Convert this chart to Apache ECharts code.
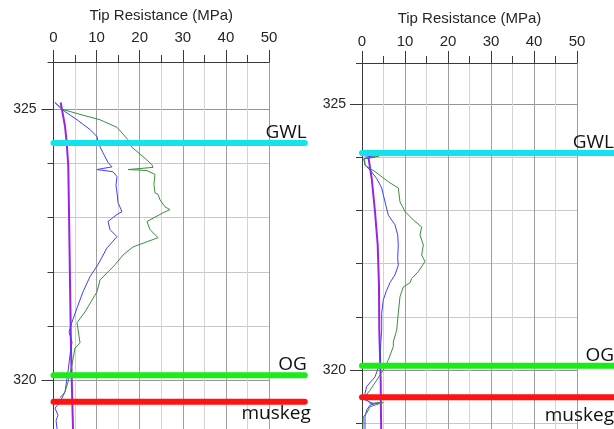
<!DOCTYPE html>
<html><head><meta charset="utf-8">
<script src="https://cdn.jsdelivr.net/npm/echarts@6/dist/echarts.min.js"></script>
<style>html,body{margin:0;padding:0;background:#fff}#c{width:614px;height:429px}</style>
</head><body><div id="c"></div>
<script>
// ---- data ----
const X_TITLE = 'Tip Resistance (MPa)';
const X_MIN = 0, X_MAX = 50, X_STEP = 10;
const Y_LABELS = [320, 325];
const LEFT_Y_RANGE = [319, 325.878];
const RIGHT_Y_RANGE = [318, 325.771];
const LEVEL_NAMES = ['GWL', 'OG', 'muskeg'];
const LEFT_LEVELS = [324.38, 320.09, 319.60];
const RIGHT_LEVELS = [324.08, 320.08, 319.49];
const LEFT_LEVEL_SPAN = [0, 58.3];
const RIGHT_LEVEL_SPAN = [0, 58.6];

// [tip resistance MPa, elevation m]
const LEFT_PURPLE = [[1.67,325.13],[2.67,324.69],[3.06,324.39],[3.43,323.95],[3.60,323.09],[3.83,321.82],[4.06,320.59],[4.36,319.60],[4.52,319.11],[4.55,319.0]];
const LEFT_BLUE = [[0.3,325.13],[1.97,325.0],[5.45,324.81],[8.47,324.63],[10.09,324.5],[10.32,324.39],[11.48,324.2],[12.65,324.02],[13.57,323.94],[10.09,323.89],[13.8,323.85],[14.73,323.76],[14.5,323.6],[14.73,323.46],[14.97,323.28],[15.89,323.11],[14.73,323.06],[12.65,322.93],[13.1,322.78],[14.73,322.65],[12.4,322.44],[10.3,322.13],[8.47,321.91],[6.84,321.63],[5.45,321.33],[4.29,321.07],[3.6,320.89],[4.29,320.7],[3.83,320.46],[3.36,320.15],[2.67,319.78],[1.5,319.59],[0.35,319.48],[1.04,319.35],[0.6,319.25],[0.81,319.11],[0.8,319.0]];
const LEFT_GREEN = [[0.35,325.13],[2.2,325.0],[6.15,324.91],[10.79,324.81],[14.73,324.67],[17.29,324.44],[18.21,324.3],[20.77,324.13],[22.85,323.98],[23.09,323.93],[17.29,323.89],[20.0,323.88],[21.69,323.87],[23.55,323.8],[23.3,323.62],[23.55,323.46],[24.25,323.43],[24.71,323.33],[25.87,323.2],[27.03,323.15],[25.4,323.09],[24.71,323.06],[21.69,322.93],[22.39,322.78],[24.25,322.63],[18.45,322.46],[16.13,322.31],[14.27,322.13],[10.79,321.85],[10.09,321.63],[7.31,321.26],[5.45,321.06],[6.15,320.69],[4.99,320.59],[4.29,320.28],[3.36,319.96],[2.67,319.78],[1.5,319.67]];

const RIGHT_PURPLE = [[1.47,324.01],[2.26,323.60],[3.02,322.98],[3.65,322.35],[3.95,321.60],[4.02,320.75],[4.35,319.81],[4.42,319.12],[4.47,318.87]];
const RIGHT_BLUE = [[0.4,324.03],[3.0,324.0],[0.4,323.97],[0.7,323.85],[1.86,323.76],[3.42,323.60],[4.58,323.42],[5.35,323.16],[6.12,322.91],[7.67,322.73],[8.30,322.54],[8.44,322.35],[8.30,322.10],[8.44,321.97],[7.67,321.79],[6.56,321.65],[5.74,321.50],[4.95,321.32],[4.58,321.07],[4.58,320.75],[4.35,320.50],[4.19,320.13],[3.02,319.87],[1.09,319.69],[0.70,319.56],[0.70,319.44],[2.63,319.37],[4.19,319.39],[1.86,319.34],[1.09,319.25],[0.70,319.12],[0.7,318.87]];
const RIGHT_GREEN = [[0.3,324.05],[4.0,324.02],[0.6,323.98],[0.7,323.85],[3.02,323.73],[6.12,323.54],[8.44,323.42],[8.84,323.16],[10.0,322.98],[11.93,322.82],[13.88,322.69],[13.49,322.54],[14.26,322.35],[13.88,322.16],[14.65,322.04],[13.09,321.85],[11.56,321.72],[11.16,321.64],[9.60,321.56],[8.84,321.38],[8.44,321.07],[8.07,320.75],[7.28,320.53],[7.28,320.44],[6.12,320.19],[4.95,320.0],[3.42,319.81],[1.86,319.62],[0.70,319.50],[1.86,319.37],[4.95,319.39],[1.86,319.31],[1.09,319.19],[0.30,319.12],[0.2,318.87]];

// ---- styles / layout ----
const AX = '#3a3a3a';
const TXT = {fontFamily: 'Liberation Sans', color: '#262626'};
const LEVEL_COLORS = ['#14e3ef', '#19ec19', '#ff1212'];
const LABEL_FONT = {fontFamily: 'Open Sans', fontSize: 19, color: '#111'};
const L = {left: 53.5, top: 62, pxX: 215.5 / 50, pxY: 54.1};
const R = {left: 362, top: 63, pxX: 215 / 50, pxY: 53.2};

function xAxis(gi, margin, gap) {
  return {
    type: 'value', gridIndex: gi, position: 'top', min: X_MIN, max: X_MAX, interval: X_STEP,
    name: X_TITLE, nameLocation: 'middle', nameGap: gap,
    nameTextStyle: Object.assign({fontSize: 15}, TXT),
    axisLine: {show: true, lineStyle: {color: AX, width: 1}},
    axisTick: {show: true, length: 12, lineStyle: {color: AX}},
    minorTick: {show: true, splitNumber: 2, length: 7, lineStyle: {color: AX}},
    axisLabel: Object.assign({fontSize: 15, margin: margin}, TXT),
    splitLine: {show: true, lineStyle: {color: '#9e9e9e', width: 1}},
    minorSplitLine: {show: true, lineStyle: {color: '#d4d4d4', width: 1}}
  };
}
function xAxisHidden(gi, span) {
  return {type: 'value', gridIndex: gi, min: span[0], max: span[1], show: false};
}
function yAxisMain(gi, range, colors, margin) {
  return {
    type: 'value', gridIndex: gi, position: 'left', min: range[0], max: range[1], interval: 1,
    axisLine: {show: true, lineStyle: {color: AX, width: 1}},
    axisTick: {show: true, length: 6, lineStyle: {color: AX}},
    axisLabel: Object.assign({fontSize: 14, margin: margin, customValues: Y_LABELS}, TXT),
    splitLine: {show: true, lineStyle: {color: colors, width: 1}}
  };
}
function yAxisLong(gi, range) {
  return {
    type: 'value', gridIndex: gi, position: 'left', offset: 0, min: range[0], max: range[1], interval: 1,
    axisLine: {show: false}, axisLabel: {show: false}, splitLine: {show: false},
    axisTick: {show: true, length: 12, customValues: Y_LABELS, lineStyle: {color: AX}}
  };
}
function yAxisHidden(gi, range) {
  return {type: 'value', gridIndex: gi, min: range[0], max: range[1], show: false};
}
function curve(data, color, width, xi, yi) {
  return {type: 'line', xAxisIndex: xi, yAxisIndex: yi, data: data, symbol: 'none',
    lineStyle: {color: color, width: width}, z: 3, silent: true};
}
function level(i, lvl, span, xi, yi, labelCfg) {
  return {
    type: 'line', xAxisIndex: xi, yAxisIndex: yi, z: 6, silent: true,
    symbol: 'circle', symbolSize: 0, showSymbol: true,
    lineStyle: {color: LEVEL_COLORS[i], width: 6, cap: 'round'},
    label: {show: false},
    data: [[span[0], lvl], {value: [span[1], lvl],
      label: Object.assign({show: true, formatter: LEVEL_NAMES[i]}, LABEL_FONT, labelCfg)}]
  };
}
function gridOf(g, xr, yr) {
  return {left: g.left, top: g.top, width: (xr[1] - xr[0]) * g.pxX, height: (yr[1] - yr[0]) * g.pxY,
    outerBoundsMode: 'none', containLabel: false};
}

const series = [
  curve(LEFT_PURPLE, '#9a22e4', 2, 0, 0),
  curve(LEFT_BLUE, '#3f3fff', 1, 0, 0),
  curve(LEFT_GREEN, '#3b8f3b', 1, 0, 0),
  curve(RIGHT_PURPLE, '#9a22e4', 2, 1, 2),
  curve(RIGHT_BLUE, '#3f3fff', 1, 1, 2),
  curve(RIGHT_GREEN, '#3b8f3b', 1, 1, 2)
];
const leftLab = [
  {position: 'top', distance: 1, align: 'right', offset: [2, 0]},
  {position: 'top', distance: 1, align: 'right', offset: [2, 0]},
  {position: 'bottom', distance: 2, align: 'right', offset: [6, 0]}
];
const rightLab = [
  {position: 'top', distance: 1, align: 'right', offset: [0, 0]},
  {position: 'top', distance: 1, align: 'right', offset: [0, 0]},
  {position: 'bottom', distance: 9, align: 'right', offset: [0, 0]}
];
LEFT_LEVELS.forEach((v, i) => series.push(level(i, v, LEFT_LEVEL_SPAN, 2, 4, leftLab[i])));
RIGHT_LEVELS.forEach((v, i) => series.push(level(i, v, RIGHT_LEVEL_SPAN, 3, 5, rightLab[i])));

const chart = echarts.init(document.getElementById('c'), null, {renderer: 'canvas'});
chart.setOption({
  animation: false,
  backgroundColor: '#fff',
  grid: [
    gridOf(L, [X_MIN, X_MAX], LEFT_Y_RANGE),
    gridOf(R, [X_MIN, X_MAX], RIGHT_Y_RANGE),
    gridOf(L, LEFT_LEVEL_SPAN, LEFT_Y_RANGE),
    gridOf(R, RIGHT_LEVEL_SPAN, RIGHT_Y_RANGE)
  ],
  xAxis: [xAxis(0, 17, 39), xAxis(1, 14, 37), xAxisHidden(2, LEFT_LEVEL_SPAN), xAxisHidden(3, RIGHT_LEVEL_SPAN)],
  yAxis: [
    yAxisMain(0, LEFT_Y_RANGE, ['#c8c8c8', '#959595', '#c8c8c8', '#c8c8c8', '#c8c8c8'], 17),
    yAxisLong(0, LEFT_Y_RANGE),
    yAxisMain(1, RIGHT_Y_RANGE, ['#c8c8c8', '#c8c8c8', '#959595', '#c8c8c8', '#c8c8c8'], 16),
    yAxisLong(1, RIGHT_Y_RANGE),
    yAxisHidden(2, LEFT_Y_RANGE),
    yAxisHidden(3, RIGHT_Y_RANGE)
  ],
  series: series
});
</script></body></html>
